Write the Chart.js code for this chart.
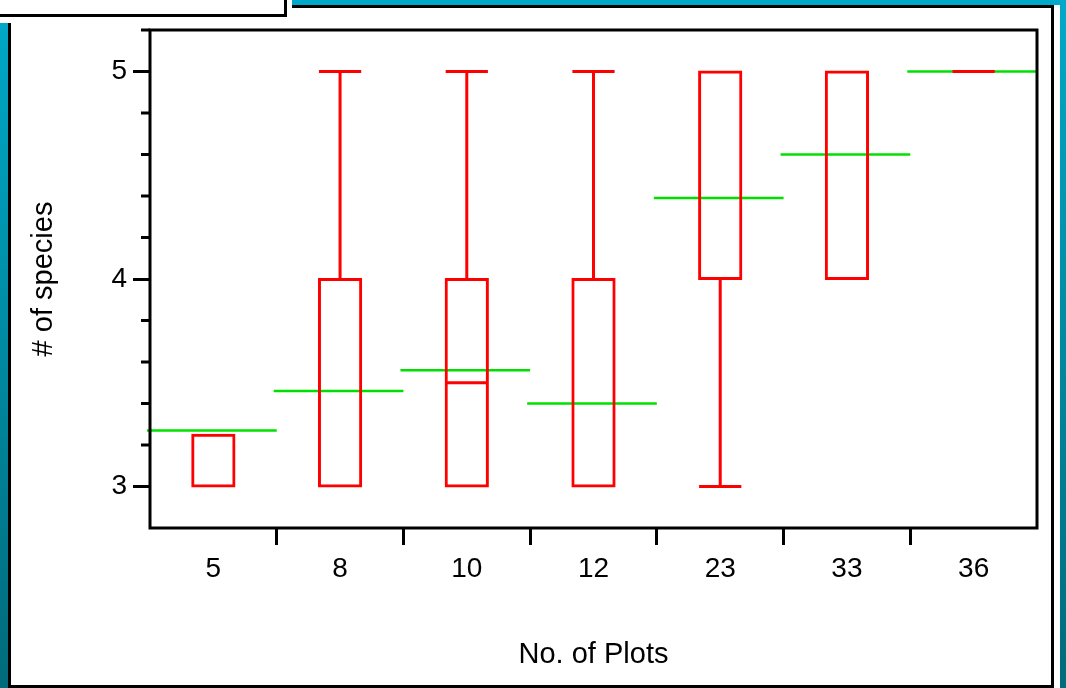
<!DOCTYPE html>
<html>
<head>
<meta charset="utf-8">
<title>No. of Plots vs # of species</title>
<script src="https://cdn.jsdelivr.net/npm/chart.js@4"></script>
<style>
    html, body { margin: 0; padding: 0; }
    body {
        width: 1066px; height: 688px; overflow: hidden; position: relative;
        background: linear-gradient(to bottom, #00a9c9, #006b7b);
    }
    #panel { position: absolute; left: 8px; top: 5px; width: 1052px; height: 683px; background: #fff; }
    #frame { position: absolute; left: 8px; top: 5px; width: 1046px; height: 683px; border: 3px solid #000; box-sizing: border-box; }
    #cover { position: absolute; left: 0; top: 0; width: 292px; height: 23px; background: #fff; }
    #label { position: absolute; left: 0; top: 0; width: 287px; height: 17px; background: #fff;
        border-right: 3px solid #000; border-bottom: 3px solid #000; box-sizing: border-box; }
    #the_chart { position: absolute; left: 0; top: 0; }
</style>
</head>
<body>
<div id="panel"></div>
<div id="frame"></div>
<div id="cover"></div>
<div id="label"></div>
<canvas id="the_chart" width="1066" height="688"></canvas>
<script>
// data
const categories = ['5', '8', '10', '12', '23', '33', '36'];
const whiskerLow = [3, 3, 3, 3, 3, 4, 5];
const q1 = [3, 3, 3, 3, 4, 4, 5];
const median = [3, 3, 3.5, 3, 5, 5, 5];
const q3 = [3.25, 4, 4, 4, 5, 5, 5];
const whiskerHigh = [3.25, 5, 5, 5, 5, 5, 5];
const means = [3.27, 3.46, 3.56, 3.40, 4.39, 4.60, 5];

const yMin = 2.8;
const yMax = 5.2;

const red = '#ff0000';
const green = '#00e000';

Chart.defaults.font.family = '"Liberation Sans", Arial, sans-serif';
Chart.defaults.color = '#000';

function isWhole(v){
    return Math.abs(v - Math.round(v)) < 1e-6;
}

// whiskers, caps, medians, means and the frame, all through the scales
const boxExtras = {
    id: 'boxExtras',
    beforeDatasetsDraw(chart){
        const ctx = chart.ctx;
        const x = chart.scales.x;
        const y = chart.scales.y;
        const catW = x.getPixelForValue(1) - x.getPixelForValue(0);
        ctx.save();
        ctx.strokeStyle = green;
        ctx.lineWidth = 2.5;
        means.forEach((m, i) => {
            const cx = x.getPixelForValue(i);
            const py = y.getPixelForValue(m);
            ctx.beginPath();
            ctx.moveTo(cx - catW / 2 - 3, py);
            ctx.lineTo(cx + catW / 2, py);
            ctx.stroke();
        });
        ctx.restore();
    },
    afterDatasetsDraw(chart){
        const ctx = chart.ctx;
        const x = chart.scales.x;
        const y = chart.scales.y;
        const bars = chart.getDatasetMeta(0).data;
        ctx.save();
        ctx.strokeStyle = red;
        ctx.lineWidth = 3;
        categories.forEach((c, i) => {
            const cx = x.getPixelForValue(i);
            const half = bars[i].width / 2;
            const lo = y.getPixelForValue(whiskerLow[i]);
            const b1 = y.getPixelForValue(q1[i]);
            const b3 = y.getPixelForValue(q3[i]);
            const hi = y.getPixelForValue(whiskerHigh[i]);
            const md = y.getPixelForValue(median[i]);
            const flat = q1[i] === q3[i];
            ctx.beginPath();
            // whiskers
            if (whiskerLow[i] < q1[i]) { ctx.moveTo(cx, lo); ctx.lineTo(cx, b1); }
            if (whiskerHigh[i] > q3[i]) { ctx.moveTo(cx, b3); ctx.lineTo(cx, hi); }
            // caps (skip where they sit on the box edge)
            if (whiskerLow[i] < q1[i]) { ctx.moveTo(cx - half, lo); ctx.lineTo(cx + half, lo); }
            if (whiskerHigh[i] > q3[i] || flat) { ctx.moveTo(cx - half, hi); ctx.lineTo(cx + half, hi); }
            // median, only when inside the box
            if (median[i] > q1[i] && median[i] < q3[i]) { ctx.moveTo(cx - half, md); ctx.lineTo(cx + half, md); }
            ctx.stroke();
        });
        ctx.restore();
    },
    afterDraw(chart){
        const ctx = chart.ctx;
        const a = chart.chartArea;
        const y = chart.scales.y;
        ctx.save();
        ctx.strokeStyle = '#000';
        ctx.lineWidth = 3;
        ctx.strokeRect(a.left, a.top, a.right - a.left, a.bottom - a.top);
        // minor ticks on the y axis
        ctx.beginPath();
        y.ticks.forEach(t => {
            if (isWhole(t.value) || t.value < 3) return;
            const py = y.getPixelForValue(t.value);
            ctx.moveTo(a.left - 9, py);
            ctx.lineTo(a.left, py);
        });
        ctx.stroke();
        ctx.restore();
    }
};

new Chart(document.getElementById('the_chart'), {
    type: 'bar',
    data: {
        labels: categories,
        datasets: [{
            label: 'box',
            data: q1.map((v, i) => [v, q3[i]]),
            backgroundColor: 'rgba(0,0,0,0)',
            borderColor: red,
            borderWidth: 1,
            borderSkipped: false,
            inflateAmount: 1,
            barPercentage: 1 / 3,
            categoryPercentage: 1
        }]
    },
    options: {
        responsive: false,
        animation: false,
        devicePixelRatio: 1,
        layout: { padding: { left: 0, right: 29, top: 30, bottom: 0 } },
        plugins: {
            legend: { display: false },
            tooltip: { enabled: false }
        },
        scales: {
            x: {
                type: 'category',
                offset: true,
                border: { display: false },
                grid: {
                    offset: true,
                    drawOnChartArea: false,
                    tickLength: 17,
                    tickWidth: 3,
                    tickColor: ctx => (ctx.index === undefined || ctx.index === 0) ? 'rgba(0,0,0,0)' : '#000'
                },
                ticks: { font: { size: 28 }, padding: 7, color: '#000' },
                title: {
                    display: true,
                    text: 'No. of Plots',
                    font: { size: 29 },
                    color: '#000',
                    padding: { top: 0, bottom: 16 }
                },
                afterFit: scale => { scale.height = 160; }
            },
            y: {
                type: 'linear',
                min: yMin,
                max: yMax,
                border: { display: false },
                grid: {
                    drawOnChartArea: false,
                    tickLength: 17,
                    tickWidth: 3,
                    tickColor: ctx => (ctx.tick && isWhole(ctx.tick.value)) ? '#000' : 'rgba(0,0,0,0)'
                },
                ticks: {
                    stepSize: 0.2,
                    autoSkip: false,
                    font: { size: 28 },
                    padding: 6,
                    color: '#000',
                    callback: v => isWhole(v) ? String(Math.round(v)) : ''
                },
                title: {
                    display: true,
                    text: '# of species',
                    font: { size: 29 },
                    color: '#000',
                    padding: { top: 27, bottom: 0 }
                },
                afterFit: scale => { scale.width = 150; }
            }
        }
    },
    plugins: [boxExtras]
});
</script>
</body>
</html>
